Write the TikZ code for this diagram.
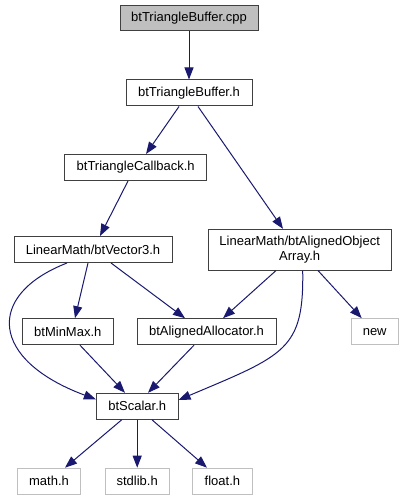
\documentclass[tikz,border=0pt]{standalone}
\usepackage{fontspec}
\setmainfont{Liberation Sans}
\usetikzlibrary{arrows.meta}
\definecolor{edgeblue}{HTML}{191970}
\definecolor{boxline}{HTML}{404040}
\definecolor{extline}{HTML}{BFBFBF}
\tikzset{incbox/.style={draw=boxline,line width=1pt,inner sep=0pt,minimum height=26pt,
                        font=\fontsize{13}{15}\selectfont,align=center},
         incext/.style={incbox,draw=extline},
         incedge/.style={draw=edgeblue,line width=1pt,-{Triangle[length=12pt,width=9pt]}}}

\begin{document}
\begin{tikzpicture}[x=1pt,y=-1pt]
    \useasboundingbox (0,0) rectangle (403,500);
    \node[incbox,fill=extline,minimum width=138pt,minimum height=25pt] (cpp) at (189,18.5) {btTriangleBuffer.cpp};
    \foreach \x/\y/\w/\n/\l in {189/93/126/tbh/btTriangleBuffer.h,135.7/167.5/142/cb/btTriangleCallback.h,
        93/249.5/158/vec/{LinearMath/btVector3.h},67.8/331.7/91/mm/btMinMax.h,
        206.5/331.7/139/aa/btAlignedAllocator.h,137.2/406.3/81.7/sc/btScalar.h}
      {\node[incbox,minimum width=\w pt] (\n) at (\x,\y) {\l};}
    \node[incbox,minimum width=182.7pt,minimum height=40.7pt] (aoa) at (299.7,249.7) {LinearMath/btAlignedObject\\Array.h};
    \foreach \x/\y/\w/\n/\l in {374.7/331.7/47.3/new/new,49/481.2/63.4/math/math.h,
        137.2/481.2/64.3/std/stdlib.h,222.4/481.2/59.3/flt/float.h}
      {\node[incext,minimum width=\w pt] (\n) at (\x,\y) {\l};}
    % straight includes
    \foreach \a/\sa/\b/\sb in {cpp/0/tbh/0,tbh/-10/cb/10.3,tbh/9/aoa/-16.7,cb/-7.7/vec/7,
        vec/-5/mm/7.2,vec/18/aa/-21.5,aoa/-23.7/aa/16.5,aoa/18.3/new/-13,
        mm/12.2/sc/-12.2,aa/-12.5/sc/10.8,sc/-15.5/math/16,sc/0/std/0,sc/14.8/flt/-15.4}
      {\draw[incedge] ([xshift=\sa pt]\a.south) -- ([xshift=\sb pt]\b.north);}
    % curved includes
    \draw[incedge] ([xshift=-26pt]vec.south) .. controls (-15,295) and (-10,360) .. ([yshift=7pt]sc.west);
    \draw[incedge] ([xshift=3pt]aoa.south) .. controls (304,350) and (285,355) .. ([yshift=6.3pt]sc.east);
  \end{tikzpicture}
\end{document}
